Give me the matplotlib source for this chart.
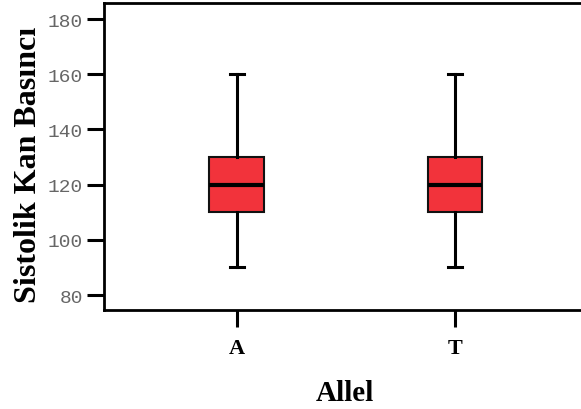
import matplotlib.pyplot as plt

alleles = ['A', 'T']
q1 = [110, 110]
medians = [120, 120]
q3 = [130, 130]
whisker_low = [90, 90]
whisker_high = [160, 160]
yticks = [80, 100, 120, 140, 160, 180]

stats = []
for i, name in enumerate(alleles):
    stats.append({'label': name, 'q1': q1[i], 'med': medians[i], 'q3': q3[i],
                  'whislo': whisker_low[i], 'whishi': whisker_high[i], 'fliers': []})

fig = plt.figure(figsize=(5.81, 4.10), dpi=100)
ax = fig.add_axes([0.179, 0.2415, 0.83, 0.7485])

ax.bxp(stats, positions=[1, 2], widths=0.25, patch_artist=True, showfliers=False,
       boxprops=dict(facecolor='#f2333b', edgecolor='#111111', linewidth=1.5),
       medianprops=dict(color='black', linewidth=3),
       whiskerprops=dict(color='black', linewidth=2.2),
       capprops=dict(color='black', linewidth=2.2), capwidths=0.065)

ax.set_xlim(0.393, 2.60)
ax.set_ylim(74.6, 185.8)
ax.set_yticks(yticks)
ax.set_xticks([1, 2])
ax.set_xticklabels(alleles, fontfamily='Liberation Serif', fontweight='bold', fontsize=16)
for lbl in ax.get_yticklabels():
    lbl.set_fontfamily('Liberation Mono')
    lbl.set_fontsize(14)
    lbl.set_color('#666666')
ax.tick_params(axis='both', length=12, width=2.2, color='black')
ax.tick_params(axis='y', pad=3)
ax.tick_params(axis='x', pad=8)

for s in ax.spines.values():
    s.set_linewidth(2)
ax.spines['right'].set_visible(False)

ax.set_xlabel('Allel', fontfamily='Liberation Serif', fontweight='bold', fontsize=21, labelpad=15)
ax.set_ylabel('Sistolik Kan Basıncı', fontfamily='Liberation Serif', fontweight='bold', fontsize=23)
ax.yaxis.set_label_coords(-0.127, 0.475)

fig.savefig('out.png', dpi=100)
